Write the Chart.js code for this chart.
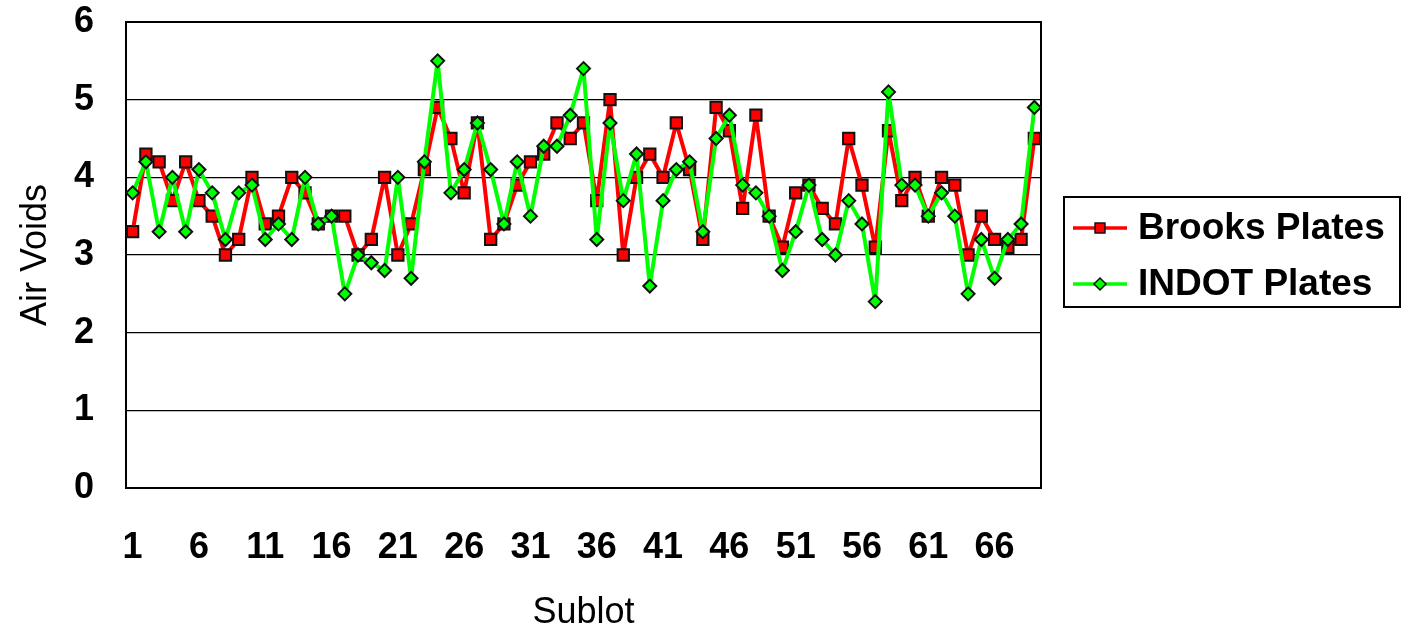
<!DOCTYPE html>
<html>
<head>
<meta charset="utf-8">
<script src="https://cdn.jsdelivr.net/npm/chart.js@4/dist/chart.umd.min.js"></script>
<style>
  html, body { margin: 0; padding: 0; background: #fff; }
  #wrap { width: 1401px; height: 635px; }
</style>
</head>
<body>
<div id="wrap"><canvas id="chart" width="1401" height="635"></canvas></div>
<script>
// --- Données ---
const sublots = Array.from({ length: 69 }, (_, i) => String(i + 1));

const brooks = [
  3.3, 4.3, 4.2, 3.7, 4.2, 3.7, 3.5, 3.0, 3.2, 4.0,
  3.4, 3.5, 4.0, 3.8, 3.4, 3.5, 3.5, 3.0, 3.2, 4.0,
  3.0, 3.4, 4.1, 4.9, 4.5, 3.8, 4.7, 3.2, 3.4, 3.9,
  4.2, 4.3, 4.7, 4.5, 4.7, 3.7, 5.0, 3.0, 4.0, 4.3,
  4.0, 4.7, 4.1, 3.2, 4.9, 4.6, 3.6, 4.8, 3.5, 3.1,
  3.8, 3.9, 3.6, 3.4, 4.5, 3.9, 3.1, 4.6, 3.7, 4.0,
  3.5, 4.0, 3.9, 3.0, 3.5, 3.2, 3.1, 3.2, 4.5
];

const indot = [
  3.8, 4.2, 3.3, 4.0, 3.3, 4.1, 3.8, 3.2, 3.8, 3.9,
  3.2, 3.4, 3.2, 4.0, 3.4, 3.5, 2.5, 3.0, 2.9, 2.8,
  4.0, 2.7, 4.2, 5.5, 3.8, 4.1, 4.7, 4.1, 3.4, 4.2,
  3.5, 4.4, 4.4, 4.8, 5.4, 3.2, 4.7, 3.7, 4.3, 2.6,
  3.7, 4.1, 4.2, 3.3, 4.5, 4.8, 3.9, 3.8, 3.5, 2.8,
  3.3, 3.9, 3.2, 3.0, 3.7, 3.4, 2.4, 5.1, 3.9, 3.9,
  3.5, 3.8, 3.5, 2.5, 3.2, 2.7, 3.2, 3.4, 4.9
];

const yTicks = [0, 1, 2, 3, 4, 5, 6];

const FONT = "'Liberation Sans', Arial, sans-serif";
const RED = '#ff0000';
const GREEN = '#00ff00';

// --- Cadre de la zone de tracé ---
const plotBorder = {
  id: 'plotBorder',
  beforeDatasetsDraw(chart) {
    const { ctx, chartArea: a } = chart;
    ctx.save();
    ctx.strokeStyle = '#000';
    ctx.lineWidth = 2;
    ctx.strokeRect(a.left, a.top, a.right - a.left, a.bottom - a.top);
    ctx.restore();
  }
};

// --- Légende encadrée (style Excel) ---
const boxLegend = {
  id: 'boxLegend',
  afterDraw(chart) {
    const ctx = chart.ctx;
    const x0 = 1064, y0 = 197, w = 336, h = 110;
    ctx.save();
    ctx.strokeStyle = '#000';
    ctx.lineWidth = 2;
    ctx.strokeRect(x0, y0, w, h);

    const items = chart.data.datasets.map((ds, i) => ({
      text: ds.label,
      color: ds.borderColor,
      style: ds.pointStyle,
      y: i === 0 ? 228 : 284
    }));

    items.forEach(it => {
      ctx.strokeStyle = it.color;
      ctx.lineWidth = 3.5;
      ctx.beginPath();
      ctx.moveTo(1073, it.y);
      ctx.lineTo(1127, it.y);
      ctx.stroke();

      ctx.fillStyle = it.color;
      ctx.strokeStyle = '#111';
      ctx.lineWidth = 1.5;
      Chart.helpers.drawPoint(ctx, { pointStyle: it.style, radius: it.style === 'rect' ? 7 : 6, borderWidth: 1.5 }, 1100, it.y);

      ctx.fillStyle = '#000';
      ctx.font = 'bold 37px ' + FONT;
      ctx.textBaseline = 'middle';
      ctx.textAlign = 'left';
      ctx.fillText(it.text, 1138, it.y + 1);
    });
    ctx.restore();
  }
};

function initChart() {
  const ctx = document.getElementById('chart');
  new Chart(ctx, {
    type: 'line',
    data: {
      labels: sublots,
      datasets: [{
        label: 'Brooks Plates',
        data: brooks,
        borderColor: RED,
        backgroundColor: RED,
        borderWidth: 4,
        borderJoinStyle: 'round',
        pointStyle: 'rect',
        pointRadius: 8,
        pointBorderColor: '#111',
        pointBorderWidth: 2,
        pointBackgroundColor: RED,
        tension: 0,
        order: 2
      }, {
        label: 'INDOT Plates',
        data: indot,
        borderColor: GREEN,
        backgroundColor: GREEN,
        borderWidth: 4,
        borderJoinStyle: 'round',
        pointStyle: 'rectRot',
        pointRadius: 6.5,
        pointBorderColor: '#111',
        pointBorderWidth: 2,
        pointBackgroundColor: GREEN,
        tension: 0,
        order: 1
      }]
    },
    options: {
      responsive: false,
      animation: false,
      layout: { padding: { top: 22, right: 360, bottom: 0, left: 0 } },
      plugins: { legend: { display: false }, tooltip: { enabled: false } },
      scales: {
        x: {
          offset: true,
          grid: { display: false, drawTicks: false },
          border: { display: false },
          ticks: {
            autoSkip: false,
            maxRotation: 0,
            padding: 38,
            color: '#000',
            font: { family: FONT, size: 36, weight: 'bold' },
            callback: (v, i) => (i % 5 === 0 ? sublots[i] : '')
          },
          title: {
            display: true,
            text: 'Sublot',
            color: '#000',
            font: { family: FONT, size: 36, lineHeight: 1.2 },
            padding: { top: 0, bottom: 0 }
          },
          afterFit: s => { s.height = 147; s.paddingLeft = 0; s.paddingRight = 0; }
        },
        y: {
          min: 0,
          max: 6,
          grid: { color: '#000', lineWidth: 1.3, drawTicks: false },
          border: { display: false },
          afterBuildTicks: s => { s.ticks = yTicks.map(v => ({ value: v })); },
          ticks: {
            padding: 32,
            color: '#000',
            font: { family: FONT, size: 36, weight: 'bold' }
          },
          title: {
            display: true,
            text: 'Air Voids',
            color: '#000',
            font: { family: FONT, size: 36, lineHeight: 1.2 },
            padding: { top: 14, bottom: 0 }
          },
          afterFit: s => { s.width = 126; s.paddingTop = 0; s.paddingBottom = 0; }
        }
      }
    },
    plugins: [plotBorder, boxLegend]
  });
}

initChart();
</script>
</body>
</html>
